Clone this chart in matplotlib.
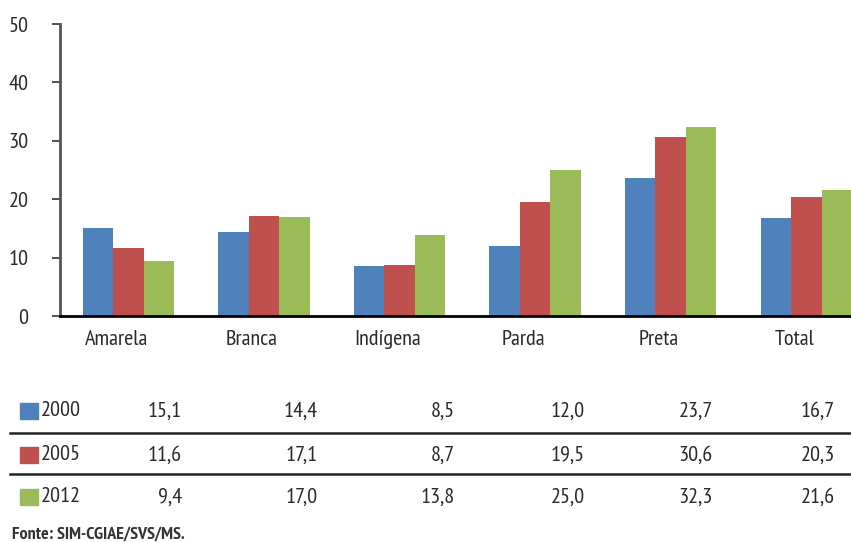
import matplotlib
matplotlib.use('Agg')
import matplotlib.pyplot as plt
import matplotlib.transforms as mtransforms
import numpy as np

plt.rcParams['font.family'] = ['PT Sans Narrow', 'DejaVu Sans']

# taxa por raça/cor
categorias = ['Amarela', 'Branca', 'Indígena', 'Parda', 'Preta', 'Total']
anos = ['2000', '2005', '2012']
taxa_2000 = [15.1, 14.4, 8.5, 12.0, 23.7, 16.7]
taxa_2005 = [11.6, 17.1, 8.7, 19.5, 30.6, 20.3]
taxa_2012 = [9.4, 17.0, 13.8, 25.0, 32.3, 21.6]
fonte = 'Fonte: SIM-CGIAE/SVS/MS.'

series = [taxa_2000, taxa_2005, taxa_2012]
cores = ['#4F81BD', '#C0504D', '#9BBB59']

W, H = 851, 542
fig = plt.figure(figsize=(W / 100, H / 100), dpi=100)
ax = fig.add_axes([60 / W, 1 - 316 / H, 1 - 60 / W, (316 - 24) / H])

x = np.arange(len(categorias))
larg = 0.225
for i, (vals, cor) in enumerate(zip(series, cores)):
    ax.bar(x + (i - 1) * larg, vals, larg, color=cor, linewidth=0)

ax.set_xlim(-0.506, 5.33)
ax.set_ylim(0, 50)
ax.set_yticks(range(0, 51, 10))
ax.set_xticks(x)
ax.set_xticklabels(categorias, fontsize=16, color='#2a2a2a')
ax.tick_params(axis='x', length=0, pad=10)
ax.tick_params(axis='y', length=5.8, width=1.3, color='#444444', pad=17,
               labelsize=16, labelcolor='#2a2a2a')
# rótulos das categorias levemente à esquerda
desloc = mtransforms.ScaledTranslation(-12 / 100, 0, fig.dpi_scale_trans)
for lab in ax.get_xticklabels():
    lab.set_transform(lab.get_transform() + desloc)

for s in ['top', 'right']:
    ax.spines[s].set_visible(False)
ax.spines['left'].set_color('#555555')
ax.spines['left'].set_linewidth(2)
ax.spines['bottom'].set_color('black')
ax.spines['bottom'].set_linewidth(2)

# tabela de valores abaixo do gráfico
linhas_y = [411, 455, 497]
colunas_x = [182, 318, 455, 585, 713, 835]
for vals, ano, cor, yl in zip(series, anos, cores, linhas_y):
    fig.patches.append(plt.Rectangle((20 / W, 1 - (yl + 8) / H), 18 / W, 16 / H,
                                     transform=fig.transFigure, color=cor))
    fig.text(41 / W, 1 - yl / H, ano, fontsize=16, color='#2a2a2a',
             ha='left', va='center')
    for v, cx in zip(vals, colunas_x):
        fig.text(cx / W, 1 - yl / H, f'{v:.1f}'.replace('.', ','), fontsize=16,
                 color='#2a2a2a', ha='right', va='center')

for yy in [433, 474]:
    fig.add_artist(plt.Line2D([10 / W, 1], [1 - yy / H, 1 - yy / H],
                              transform=fig.transFigure, color='#222222', lw=1.8))

fig.text(12 / W, 1 - 535 / H, fonte, fontsize=13, fontweight='bold',
         color='#333333', ha='left', va='center')

fig.savefig('out.png', dpi=100)
